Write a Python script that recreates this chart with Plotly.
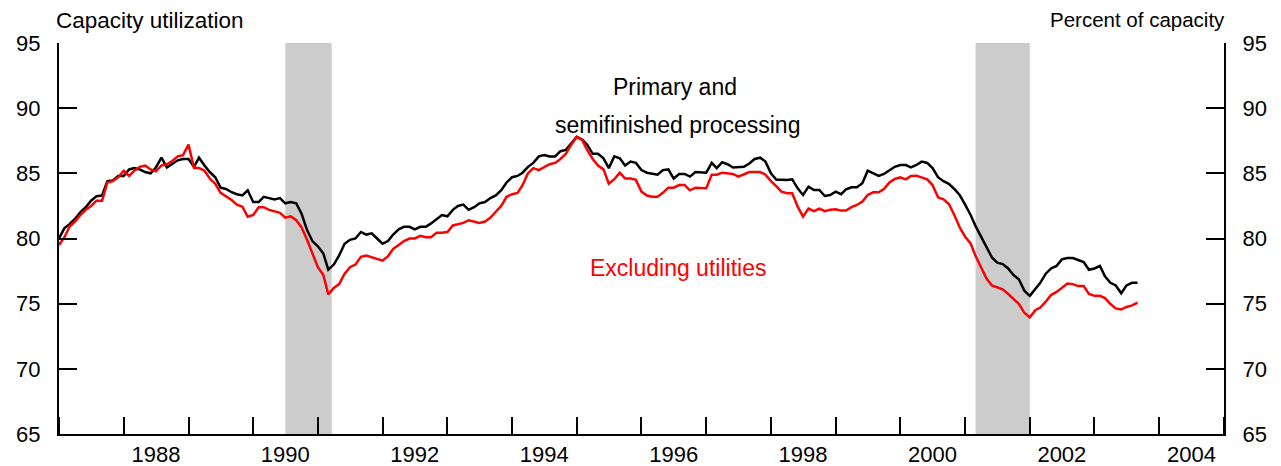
import pandas as pd
import plotly.graph_objects as go

# monthly capacity utilization, Jan 1987 onward
primary = [
    80.0, 80.8, 81.1, 81.5, 82.0, 82.4, 82.9, 83.25, 83.3, 84.4, 84.45, 84.8,   # 1987
    84.8, 85.3, 85.4, 85.3, 85.1, 85.0, 85.45, 86.2, 85.45, 85.75, 86.0, 86.1,  # 1988
    86.1, 85.5, 86.2, 85.6, 85.1, 84.7, 83.9, 83.8, 83.55, 83.4, 83.3, 83.7,    # 1989
    82.8, 82.8, 83.2, 83.1, 83.0, 83.1, 82.7, 82.8, 82.7, 81.9, 80.65, 79.8,    # 1990
    79.4, 78.85, 77.6, 78.0, 78.7, 79.6, 79.9, 80.0, 80.5, 80.3, 80.4, 80.0,    # 1991
    79.6, 79.8, 80.3, 80.7, 80.9, 80.9, 80.7, 80.9, 80.9, 81.16, 81.5, 81.8,    # 1992
    81.7, 82.2, 82.5, 82.6, 82.2, 82.4, 82.7, 82.8, 83.1, 83.3, 83.7, 84.3,     # 1993
    84.7, 84.8, 85.05, 85.5, 85.8, 86.3, 86.4, 86.3, 86.3, 86.7, 86.8, 87.3,    # 1994
    87.8, 87.6, 87.2, 86.5, 86.5, 86.15, 85.4, 86.3, 86.15, 85.6, 85.9, 85.8,   # 1995
    85.25, 85.05, 85.0, 84.9, 85.25, 85.3, 84.6, 84.95, 84.95, 84.75, 85.1, 85.05,  # 1996
    85.05, 85.8, 85.4, 85.85, 85.7, 85.45, 85.45, 85.5, 85.75, 86.1, 86.2, 85.9,    # 1997
    85.0, 84.5, 84.5, 84.49, 84.54, 83.85, 83.34, 83.98, 83.72, 83.72, 83.26, 83.34,  # 1998
    83.6, 83.4, 83.77, 83.93, 83.93, 84.24, 85.2, 85.0, 84.8, 84.95, 85.2, 85.5,  # 1999
    85.64, 85.64, 85.46, 85.64, 85.9, 85.8, 85.4, 84.7, 84.4, 84.2, 83.8, 83.34,  # 2000
    82.6, 81.8, 80.95, 80.14, 79.24, 78.55, 78.14, 78.04, 77.7, 77.2, 76.86, 76.0,  # 2001
    75.6, 76.1, 76.6, 77.3, 77.7, 77.9, 78.4, 78.5, 78.5, 78.35, 78.2, 77.6,    # 2002
    77.7, 77.9, 77.1, 76.6, 76.4, 75.8, 76.4, 76.6, 76.6,                       # 2003
]

excl_utilities = [
    79.5, 80.1, 80.9, 81.3, 81.8, 82.2, 82.5, 82.9, 82.9, 84.3, 84.4, 84.7,     # 1987
    85.2, 84.8, 85.2, 85.5, 85.6, 85.3, 85.15, 85.6, 85.7, 85.95, 86.3, 86.4,   # 1988
    87.2, 85.4, 85.4, 85.2, 84.6, 84.2, 83.5, 83.25, 82.95, 82.6, 82.44, 81.67, # 1989
    81.8, 82.4, 82.4, 82.2, 82.1, 81.97, 81.6, 81.7, 81.4, 80.85, 79.9, 78.85,  # 1990
    77.8, 77.2, 75.7, 76.2, 76.5, 77.3, 77.8, 78.0, 78.6, 78.7, 78.55, 78.45,   # 1991
    78.3, 78.65, 79.2, 79.5, 79.8, 80.0, 80.0, 80.2, 80.1, 80.1, 80.45, 80.45,  # 1992
    80.5, 81.0, 81.1, 81.2, 81.4, 81.3, 81.2, 81.3, 81.6, 82.05, 82.5, 83.2,    # 1993
    83.4, 83.5, 84.1, 85.0, 85.4, 85.25, 85.5, 85.7, 85.8, 86.1, 86.5, 87.2,    # 1994
    87.8, 87.55, 86.8, 86.1, 85.6, 85.3, 84.2, 84.55, 85.05, 84.6, 84.6, 84.5,  # 1995
    83.6, 83.3, 83.2, 83.2, 83.5, 83.9, 83.9, 84.1, 84.1, 83.7, 83.9, 83.85,    # 1996
    83.85, 84.9, 84.9, 85.05, 85.0, 84.95, 84.75, 84.95, 85.1, 85.1, 85.1, 84.9,  # 1997
    84.4, 84.0, 83.6, 83.47, 83.47, 82.44, 81.68, 82.3, 82.1, 82.3, 82.1, 82.2,   # 1998
    82.24, 82.14, 82.14, 82.4, 82.57, 82.83, 83.34, 83.54, 83.54, 83.8, 84.3, 84.57,  # 1999
    84.7, 84.54, 84.8, 84.82, 84.67, 84.54, 84.1, 83.16, 83.0, 82.65, 81.8, 80.86,  # 2000
    80.14, 79.62, 78.65, 77.83, 76.94, 76.4, 76.25, 76.1, 75.74, 75.35, 74.97, 74.3,  # 2001
    73.95, 74.5, 74.7, 75.15, 75.66, 75.9, 76.25, 76.55, 76.5, 76.35, 76.35, 75.74,  # 2002
    75.6, 75.6, 75.43, 74.97, 74.64, 74.55, 74.75, 74.87, 75.07,                # 2003
]

recessions = [("1990-07-01", "1991-03-20"), ("2001-03-01", "2002-01-01")]
label_years = list(range(1988, 2005, 2))
y_ticks = [65, 70, 75, 80, 85, 90, 95]

months = pd.date_range("1987-01-01", periods=len(primary), freq="MS")

FONT = "Arial, Liberation Sans, sans-serif"

fig = go.Figure()
fig.add_trace(go.Scatter(
    x=months, y=excl_utilities, mode="lines",
    line=dict(color="#ff0000", width=2.5), yaxis="y2",
    showlegend=False, hoverinfo="skip",
))
fig.add_trace(go.Scatter(
    x=months, y=primary, mode="lines",
    line=dict(color="#000000", width=2.5),
    showlegend=False,
))

shapes = [
    dict(type="rect", xref="x", yref="paper", x0=a, x1=b, y0=0, y1=1,
         fillcolor="#cccccc", line=dict(width=0), layer="below")
    for a, b in recessions
]

yax = dict(
    range=[65, 95], tickvals=y_ticks, ticks="inside", ticklen=18, tickwidth=2,
    tickcolor="black", showline=True, linecolor="black", linewidth=2,
    showgrid=False, zeroline=False, tickfont=dict(size=22, color="black"),
    ticklabelstandoff=12, automargin=False,
)

fig.update_layout(
    width=1281, height=466,
    # the page body adds 8px on top/left, so the plot box is set 8px in
    margin=dict(l=51, r=65, t=35, b=40),
    paper_bgcolor="white", plot_bgcolor="white",
    font=dict(family=FONT, color="black"),
    shapes=shapes,
    xaxis=dict(
        range=["1987-01-01", "2005-01-01"],
        tickvals=[f"{y}-07-01" for y in label_years],
        ticktext=[str(y) for y in label_years],
        ticks="", showline=True, linecolor="black", linewidth=2,
        showgrid=False, zeroline=False, tickfont=dict(size=22, color="black"),
        automargin=False,
        minor=dict(tick0="1988-01-01", dtick="M12", ticks="inside",
                   ticklen=17, tickwidth=2, tickcolor="black", showgrid=False),
    ),
    yaxis=dict(side="left", **yax),
    yaxis2=dict(side="right", overlaying="y", **yax),
    annotations=[
        dict(text="Capacity utilization", xref="paper", yref="paper",
             x=-0.004, y=1.057, xanchor="left", yanchor="middle",
             showarrow=False, font=dict(size=22.5)),
        dict(text="Percent of capacity", xref="paper", yref="paper",
             x=1.003, y=1.061, xanchor="right", yanchor="middle",
             showarrow=False, font=dict(size=20.5)),
        dict(text="Primary and", xref="paper", yref="paper",
             x=0.529, y=0.926, showarrow=False, font=dict(size=23)),
        dict(text="semifinished processing", xref="paper", yref="paper",
             x=0.531, y=0.829, showarrow=False, font=dict(size=23)),
        dict(text="Excluding utilities", xref="paper", yref="paper",
             x=0.531, y=0.4246, showarrow=False,
             font=dict(size=23, color="#ff0000")),
    ],
)

fig.write_html("out.html")
